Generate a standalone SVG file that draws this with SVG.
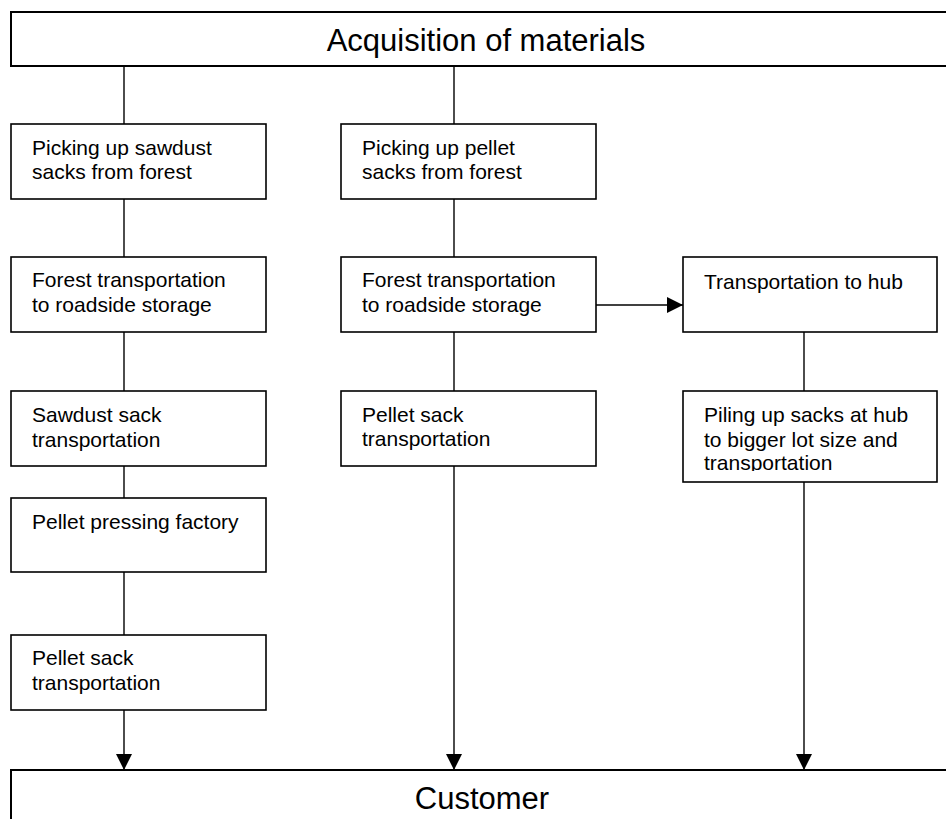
<svg xmlns="http://www.w3.org/2000/svg" width="946" height="819" viewBox="0 0 946 819">
  <style>
    .box { fill: #ffffff; stroke: #000000; stroke-width: 1.6; }
    .frame { fill: #ffffff; stroke: #000000; stroke-width: 2; }
    .lbl { font-family: "Liberation Sans", Arial, sans-serif; font-size: 21px; fill: #000000; }
    .big { font-family: "Liberation Sans", Arial, sans-serif; font-size: 31px; fill: #000000; text-anchor: middle; }
    .link { fill: none; stroke: #000000; stroke-width: 1.4; }
  </style>
  <defs>
    <marker id="arrow" markerWidth="16" markerHeight="16" viewBox="0 0 16 16" refX="16" refY="8" orient="auto" markerUnits="userSpaceOnUse">
      <path d="M0,0 L16,8 L0,16 Z" fill="#000000"/>
    </marker>
    <clipPath id="hubClip">
      <rect x="683" y="391" width="254" height="80"/>
    </clipPath>
  </defs>

  <rect width="946" height="819" fill="#ffffff"/>

  <!-- connectors -->
  <g id="connectors">
    <line class="link" x1="124" y1="66" x2="124" y2="124"/>
    <line class="link" x1="454" y1="66" x2="454" y2="124"/>
    <line class="link" x1="124" y1="199" x2="124" y2="257"/>
    <line class="link" x1="454" y1="199" x2="454" y2="257"/>
    <line class="link" x1="124" y1="332" x2="124" y2="391"/>
    <line class="link" x1="454" y1="332" x2="454" y2="391"/>
    <line class="link" x1="124" y1="466" x2="124" y2="498"/>
    <line class="link" x1="124" y1="572" x2="124" y2="635"/>
    <line class="link" x1="804" y1="332" x2="804" y2="391"/>
    <line class="link" x1="596" y1="305" x2="683" y2="305" marker-end="url(#arrow)" stroke-width="2"/>
    <line class="link" x1="124" y1="710" x2="124" y2="770" marker-end="url(#arrow)"/>
    <line class="link" x1="454" y1="466" x2="454" y2="770" marker-end="url(#arrow)"/>
    <line class="link" x1="804" y1="482" x2="804" y2="770" marker-end="url(#arrow)"/>
  </g>

  <!-- top frame -->
  <g id="acquisition">
    <rect class="frame" x="11" y="12" width="950" height="54"/>
    <text class="big" x="486" y="51">Acquisition of materials</text>
  </g>

  <!-- bottom frame -->
  <g id="customer">
    <rect class="frame" x="11" y="770" width="950" height="70"/>
    <text class="big" x="482" y="809">Customer</text>
  </g>

  <!-- sawdust column -->
  <g id="pick-sawdust">
    <rect class="box" x="11" y="124" width="255" height="75"/>
    <text class="lbl" x="32" y="155">Picking up sawdust</text>
    <text class="lbl" x="32" y="179">sacks from forest</text>
  </g>
  <g id="forest-transport-1">
    <rect class="box" x="11" y="257" width="255" height="75"/>
    <text class="lbl" x="32" y="287">Forest transportation</text>
    <text class="lbl" x="32" y="312">to roadside storage</text>
  </g>
  <g id="sawdust-transport">
    <rect class="box" x="11" y="391" width="255" height="75"/>
    <text class="lbl" x="32" y="422">Sawdust sack</text>
    <text class="lbl" x="32" y="447">transportation</text>
  </g>
  <g id="pressing-factory">
    <rect class="box" x="11" y="498" width="255" height="74"/>
    <text class="lbl" x="32" y="529">Pellet pressing factory</text>
  </g>
  <g id="pellet-transport-1">
    <rect class="box" x="11" y="635" width="255" height="75"/>
    <text class="lbl" x="32" y="665">Pellet sack</text>
    <text class="lbl" x="32" y="690">transportation</text>
  </g>

  <!-- pellet column -->
  <g id="pick-pellet">
    <rect class="box" x="341" y="124" width="255" height="75"/>
    <text class="lbl" x="362" y="155">Picking up pellet</text>
    <text class="lbl" x="362" y="179">sacks from forest</text>
  </g>
  <g id="forest-transport-2">
    <rect class="box" x="341" y="257" width="255" height="75"/>
    <text class="lbl" x="362" y="287">Forest transportation</text>
    <text class="lbl" x="362" y="312">to roadside storage</text>
  </g>
  <g id="pellet-transport-2">
    <rect class="box" x="341" y="391" width="255" height="75"/>
    <text class="lbl" x="362" y="422">Pellet sack</text>
    <text class="lbl" x="362" y="446">transportation</text>
  </g>

  <!-- hub column -->
  <g id="hub-transport">
    <rect class="box" x="683" y="257" width="254" height="75"/>
    <text class="lbl" x="704" y="289">Transportation to hub</text>
  </g>
  <g id="hub-piling">
    <rect class="box" x="683" y="391" width="254" height="91"/>
    <g clip-path="url(#hubClip)">
      <text class="lbl" x="704" y="422">Piling up sacks at hub</text>
      <text class="lbl" x="704" y="447">to bigger lot size and</text>
      <text class="lbl" x="704" y="470">transportation</text>
    </g>
  </g>
</svg>
